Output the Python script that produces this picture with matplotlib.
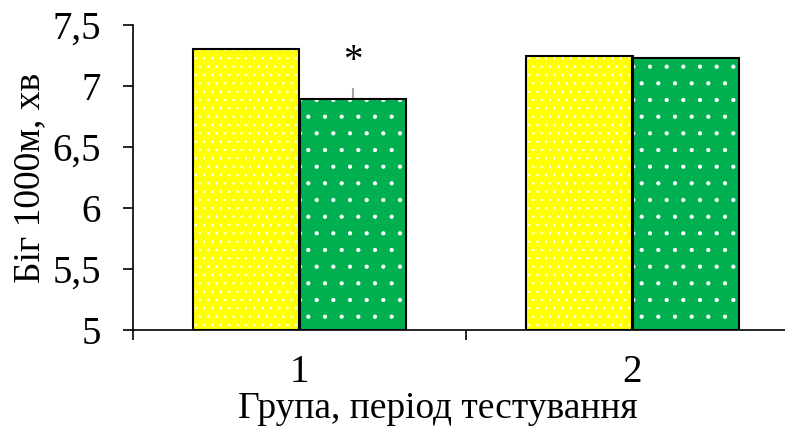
import matplotlib.pyplot as plt
import numpy as np

groups = ['1', '2']
before = [7.30, 7.25]
after = [6.89, 7.23]
after_err = [0.09, 0.0]
y_ticks = [5, 5.5, 6, 6.5, 7, 7.5]
y_labels = ['5', '5,5', '6', '6,5', '7', '7,5']

plt.rcParams['font.family'] = ['Liberation Serif', 'DejaVu Serif']
plt.rcParams['hatch.linewidth'] = 0.6

fig = plt.figure(figsize=(7.85, 4.28), dpi=100)
ax = fig.add_axes([133 / 785, 1 - 330 / 428, 652 / 785, 305 / 428])

x = np.arange(len(groups)) + 0.5
w = 0.32

# fill with white dots, then black outline on top
ax.bar(x - w / 2, np.array(before) - 5, w, bottom=5, color='#ffff00',
       edgecolor='white', hatch='..', linewidth=0, zorder=2)
ax.bar(x + w / 2, np.array(after) - 5, w, bottom=5, color='#00b050',
       edgecolor='white', hatch='.', linewidth=0, zorder=2)
ax.bar(x - w / 2, np.array(before) - 5, w, bottom=5, fill=False,
       edgecolor='black', linewidth=1.5, zorder=3)
ax.bar(x + w / 2, np.array(after) - 5, w, bottom=5, fill=False,
       edgecolor='black', linewidth=1.5, zorder=3)

ax.errorbar(x[0] + w / 2, after[0], yerr=[[0], [after_err[0]]], fmt='none',
            ecolor='#a6a6a6', elinewidth=1.5, capsize=0, zorder=1)
ax.text(x[0] + w / 2, after[0] + after_err[0] + 0.07, '*', ha='center',
        va='bottom', fontsize=28)

ax.set_ylim(5, 7.5)
ax.set_xlim(0, 652 / 333)
ax.set_yticks(y_ticks)
ax.set_yticklabels(y_labels, fontsize=28)
ax.set_xticks(x)
ax.set_xticklabels(groups, fontsize=28)
ax.tick_params(axis='x', which='major', length=0, pad=17)
ax.set_xticks([0, 1], minor=True)
ax.tick_params(axis='x', which='minor', length=7, direction='out', width=1.2)
ax.tick_params(axis='y', length=7, width=1.2, direction='out', pad=16)

ax.spines['top'].set_visible(False)
ax.spines['right'].set_visible(False)
ax.spines['left'].set_linewidth(1.2)
ax.spines['bottom'].set_linewidth(1.2)

ax.set_ylabel('Біг 1000м, хв', fontsize=27, labelpad=4)
ax.set_xlabel('Група, період тестування', fontsize=27)
ax.xaxis.set_label_coords(0.468, -0.2)

fig.savefig('out.png', dpi=100)
